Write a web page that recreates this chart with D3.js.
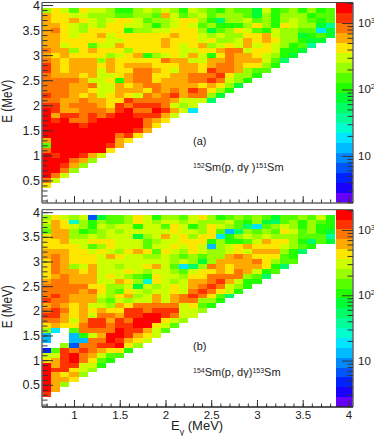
<!DOCTYPE html>
<html>
<head>
<meta charset="utf-8">
<script src="https://cdnjs.cloudflare.com/ajax/libs/d3/7.8.5/d3.min.js"></script>
<style>
html, body { margin: 0; padding: 0; background: #fff; }
svg { display: block; }
text { font-family: "Liberation Sans", sans-serif; fill: #222; }
</style>
</head>
<body>
<script>
// Counts per bin, read off the picture by colour. Each row is one excitation
// energy bin, top row (3.85-3.95 MeV) first, each row starts at E_gamma = 0.65.
// 0 = empty bin. Rows stop where the triangle stops.
var countsA = [
 [215,430,300,150,430,300,300,215,107,107,215,300,215,300,215,107,300,215,150,107,215,150,150,76,300,107,150,215,107,215,107,150],
 [600,430,430,300,300,215,215,215,150,150,215,215,150,600,300,150,215,300,150,215,215,215,150,76,215,107,215,215,215,107,150,150],
 [600,430,430,600,430,300,215,300,430,430,300,150,215,215,300,430,430,215,107,53,215,215,300,150,215,107,215,300,215,150,107,150],
 [600,600,430,300,215,300,215,430,430,300,300,215,107,215,300,430,300,150,215,107,107,107,215,430,215,107,430,300,215,215,76,38],
 [600,850,430,300,215,430,430,430,430,107,215,215,300,300,430,430,430,215,76,150,215,430,300,150,107,300,215,215,150,150,19,76],
 [600,600,430,300,430,430,600,300,430,430,430,430,430,430,600,430,430,300,215,300,215,215,430,430,600,300,215,215,76,107,150,76],
 [600,600,430,430,430,430,430,300,300,430,430,430,430,600,430,430,430,300,430,215,215,300,600,430,600,430,215,215,107,76,76],
 [600,600,300,430,430,150,300,300,600,430,430,430,430,600,430,300,430,600,215,300,430,300,600,300,430,300,215,107,150,38],
 [850,600,600,215,430,600,430,430,430,215,430,430,430,430,430,300,300,430,430,600,850,850,300,430,430,300,107,107,76],
 [600,430,600,430,430,430,430,215,300,430,600,107,215,300,430,300,600,300,107,430,850,600,600,430,300,215,107,76],
 [850,600,430,600,600,600,215,600,430,430,430,430,430,850,600,600,300,300,600,600,850,600,600,600,300,150,53],
 [1200,600,430,600,600,600,430,600,430,600,600,600,430,430,430,600,600,430,600,850,850,600,430,430,215,107],
 [1200,600,430,600,600,600,300,600,430,430,850,850,600,430,300,600,600,430,1200,850,850,600,215,150,150],
 [850,600,600,600,430,600,300,300,430,600,850,850,430,430,600,600,850,850,850,1200,430,215,215,107],
 [850,850,850,850,600,300,300,430,107,600,850,850,430,600,600,600,850,850,1200,850,300,215,107],
 [850,850,850,600,600,850,300,300,600,430,600,850,850,600,600,600,600,430,600,430,215,76],
 [850,850,850,600,600,430,300,300,600,600,600,430,850,600,850,600,1200,850,430,215,107],
 [1200,850,850,600,430,600,300,430,600,430,300,850,600,850,1200,600,850,850,215,76],
 [850,850,600,600,850,600,600,430,430,1200,850,850,850,850,600,300,300,300,53],
 [1200,1200,600,850,850,850,600,430,1200,850,1200,1200,1200,850,300,215,300],
 [1700,1200,600,600,850,850,850,600,1200,1700,850,850,1700,1200,600,300,19],
 [1700,600,1200,1200,850,1200,850,1200,1700,1700,1200,1200,1200,600,300],
 [1700,1200,1700,850,850,1200,1700,1700,1700,1700,1700,850,600,430],
 [1700,1700,1700,1700,1200,1700,1700,1700,1700,1700,1700,850,430],
 [1700,1700,1700,1700,1700,1700,1700,1700,1700,1700,1200,600],
 [1700,1700,1700,1700,1700,1700,1700,1700,850,1200,430],
 [600,1700,1700,1700,1700,1700,1700,1700,600,430],
 [150,1700,1700,1700,1700,1700,1700,1200,600],
 [850,1700,1700,1700,1700,1700,1700,430],
 [1700,1200,1700,1700,1200,600,300],
 [1700,1700,1700,850,600,215],
 [1700,1700,1200,600,215],
 [1700,1700,850,215],
 [1700,850,300],
 [850,300],
 [430]
];

var countsB = [
 [215,430,300,215,300,6.5,76,150,150,215,430,300,107,215,215,150,300,430,215,107,150,215,150,215,150,76,150,150,215,150,300,107],
 [300,600,430,26,215,107,215,150,150,215,430,300,215,300,300,215,300,215,215,215,300,150,107,215,76,53,150,215,107,215,150,107],
 [215,600,430,300,215,107,300,215,300,300,107,300,300,150,430,300,107,215,430,300,215,150,53,19,150,215,300,215,107,215,107,107],
 [150,600,600,215,107,150,215,300,215,300,300,300,300,300,430,300,300,215,430,150,13,53,215,150,215,150,430,300,150,215,107,76],
 [430,600,600,215,215,300,215,300,300,300,76,215,300,600,300,430,215,430,430,19,107,215,300,215,300,215,215,215,150,150,150,38],
 [430,430,600,300,300,430,430,430,300,300,300,150,215,300,300,430,430,430,107,215,107,107,150,300,600,430,430,215,107,53,150,76],
 [430,430,430,430,300,150,215,430,300,300,300,150,300,300,430,300,430,300,13,215,300,430,600,430,430,430,300,215,150,107],
 [600,600,600,430,430,300,430,300,215,430,600,430,150,430,300,215,430,300,215,215,300,430,300,600,600,600,215,107,53],
 [600,850,600,430,430,430,300,600,430,300,300,215,215,300,215,150,215,150,215,215,600,850,600,430,430,430,150,107],
 [430,850,600,430,430,430,300,300,300,300,300,300,300,300,215,300,215,76,215,600,600,600,600,850,430,215,150,150],
 [430,850,600,215,300,600,300,300,215,300,300,430,600,300,150,19,53,215,850,600,430,600,600,600,430,107,53],
 [430,850,600,600,430,600,300,300,300,430,300,215,300,300,215,150,300,430,430,600,430,850,600,300,107,150],
 [430,600,850,600,600,600,300,430,300,215,150,107,430,300,300,215,430,430,850,850,850,850,215,150,53],
 [600,850,850,600,600,600,300,300,600,430,215,26,430,300,215,300,600,600,850,1200,600,300,107,107],
 [850,850,850,850,850,430,430,215,215,300,76,300,215,300,430,300,600,850,1200,850,300,215,107],
 [850,850,850,850,600,850,430,215,150,430,300,215,300,300,430,300,850,1200,850,430,300,107],
 [850,1200,850,600,600,600,300,215,430,600,215,300,600,300,600,850,1200,850,430,150,53],
 [1200,850,850,600,600,600,215,150,300,215,300,300,600,300,600,850,850,215,215,107],
 [600,850,600,430,600,300,300,215,600,430,850,850,850,850,850,300,430,150,107],
 [850,1200,850,430,600,430,600,430,430,1200,1200,850,1200,1200,1200,300,300,215],
 [1200,1200,600,430,600,300,850,850,600,1200,1200,1700,1700,1200,850,300,300],
 [850,850,600,300,600,1200,1200,600,1200,850,1700,1700,1700,430,300,215],
 [430,600,430,430,850,1200,1200,850,1200,1200,1700,1700,430,300,150],
 [215,19,0,150,850,850,850,850,1700,1200,1200,600,300,150],
 [13,0,0,13,107,300,600,1700,1700,1200,600,430,300],
 [13,0,0,13,13,850,850,1700,1200,600,430,300],
 [0,0,215,6.5,850,850,1200,1200,1700,430,215],
 [4.6,150,1200,850,1200,850,600,430,430,107],
 [300,300,1200,1700,850,600,300,150,150],
 [430,600,1200,1700,850,430,150,107],
 [1700,600,1200,1200,300,300,107],
 [1700,1200,1200,430,300,215],
 [1700,600,430,600,215],
 [1700,600,600,430],
 [1700,600,215],
 [1700,600],
 [1200]
];

var xTicks = [1, 1.5, 2, 2.5, 3, 3.5, 4];
var yTicks = [0.5, 1, 1.5, 2, 2.5, 3, 3.5, 4];
var paletteTicks = [10, 100, 1000];

// ROOT rainbow palette cut in 20 contours, bottom to top
var paletteColors = ["#6600ff", "#1a00ff", "#0022ff", "#0055ff", "#0088ff", "#00bbff", "#00e6ff", "#00ffcc",
    "#00ff99", "#00ff66", "#00ff33", "#22ff00", "#55ff00", "#99ff00", "#ccff00", "#ffe600",
    "#ffaa00", "#ff7700", "#ff3300", "#ff0000"];

var width = 374, height = 436;
var margin = {left: 42, right: 353};
var binWidth = 0.1;

var svg = d3.select("body").append("svg")
    .attr("width", width)
    .attr("height", height);

var xScale = d3.scaleLinear().domain([0.65, 4.05]).range([margin.left, margin.right]);

// contours are even in log10(counts)
var logMin = 0.29, logMax = 3.31;
var colorScale = d3.scaleQuantize().domain([logMin, logMax]).range(paletteColors);

var minorX = d3.range(0.7, 4.05, 0.1);
var minorY = d3.range(0.1, 4.05, 0.1);

function drawPanel(counts, top, bottom, label, reaction, labelY, reactionY, drawXLabels) {
    var yScale = d3.scaleLinear().domain([0.05, 4.05]).range([bottom, top]);
    var g = svg.append("g");

    // bins: flatten the rows, skip the empty ones
    var cells = [];
    counts.forEach(function(row, k) {
        row.forEach(function(v, c) {
            if (v > 0) cells.push({e0: 0.65 + c * binWidth, eLow: 3.85 - k * binWidth, v: v});
        });
    });
    g.selectAll(".bin")
        .data(cells)
        .enter()
        .append("rect")
        .attr("class", "bin")
        .attr("x", function(d) { return xScale(d.e0); })
        .attr("y", function(d) { return yScale(d.eLow + binWidth); })
        .attr("width", function(d) { return xScale(d.e0 + binWidth) - xScale(d.e0); })
        .attr("height", function(d) { return yScale(d.eLow) - yScale(d.eLow + binWidth); })
        .attr("fill", function(d) { return colorScale(Math.log10(d.v)); })
        .attr("shape-rendering", "crispEdges");

    // frame along the top
    g.append("line")
        .attr("x1", margin.left).attr("x2", margin.right)
        .attr("y1", top).attr("y2", top)
        .attr("stroke", "#444").attr("stroke-width", 1);

    // palette, covers the last part of the frame
    var palX = 336, palW = 17;
    var palScale = d3.scaleLog().domain([Math.pow(10, logMin), Math.pow(10, logMax)]).range([bottom, top]);
    var step = (logMax - logMin) / paletteColors.length;
    g.selectAll(".pal")
        .data(paletteColors)
        .enter()
        .append("rect")
        .attr("class", "pal")
        .attr("x", palX)
        .attr("y", function(d, i) { return palScale(Math.pow(10, logMin + (i + 1) * step)); })
        .attr("width", palW)
        .attr("height", function(d, i) {
            return palScale(Math.pow(10, logMin + i * step)) - palScale(Math.pow(10, logMin + (i + 1) * step));
        })
        .attr("fill", function(d) { return d; })
        .attr("shape-rendering", "crispEdges");

    // minor ticks on both axes, then the major ones with labels
    var yMinor = d3.axisLeft(yScale).tickValues(minorY).tickSize(-5.5).tickFormat("");
    var yMajor = d3.axisLeft(yScale).tickValues(yTicks).tickSize(-11).tickPadding(2)
        .tickFormat(function(d) { return d; });
    var xMinor = d3.axisBottom(xScale).tickValues(minorX).tickSize(-3.5).tickFormat("");
    var xMajor = d3.axisBottom(xScale).tickValues(xTicks).tickSize(-7).tickPadding(3.5)
        .tickFormat(function(d) { return drawXLabels ? d : ""; });

    var axes = [
        {axis: yMinor, tx: margin.left, ty: 0, size: 12.5},
        {axis: yMajor, tx: margin.left, ty: 0, size: 12.5},
        {axis: xMinor, tx: 0, ty: bottom, size: 11.5},
        {axis: xMajor, tx: 0, ty: bottom, size: 11.5}
    ];
    axes.forEach(function(a) {
        var ag = g.append("g")
            .attr("transform", "translate(" + a.tx + "," + a.ty + ")")
            .call(a.axis);
        ag.select(".domain").remove();
        ag.selectAll("line").attr("stroke", "#333").attr("stroke-width", 1);
        ag.selectAll("text").attr("font-size", a.size).attr("fill", "#222");
    });

    // axis lines: grey and a bit thicker on the left
    g.append("line")
        .attr("x1", margin.left).attr("x2", margin.left)
        .attr("y1", top).attr("y2", bottom)
        .attr("stroke", "#666").attr("stroke-width", 1.5);
    g.append("line")
        .attr("x1", margin.left).attr("x2", margin.right)
        .attr("y1", bottom).attr("y2", bottom)
        .attr("stroke", drawXLabels ? "#222" : "#666").attr("stroke-width", 1.5);
    g.append("line")
        .attr("x1", margin.right).attr("x2", margin.right)
        .attr("y1", top).attr("y2", bottom)
        .attr("stroke", "#666").attr("stroke-width", 1.5);

    // palette axis, ticks pointing inward
    var palMinor = [];
    [1, 10, 100, 1000].forEach(function(dec) {
        d3.range(2, 10).forEach(function(m) {
            var v = dec * m;
            if (v > Math.pow(10, logMin) && v < Math.pow(10, logMax)) palMinor.push(v);
        });
    });
    var palAxisMinor = d3.axisRight(palScale).tickValues(palMinor).tickSize(-5.5).tickFormat("");
    var palAxisMajor = d3.axisRight(palScale).tickValues(paletteTicks).tickSize(-11).tickFormat("");
    [palAxisMinor, palAxisMajor].forEach(function(ax) {
        var ag = g.append("g")
            .attr("transform", "translate(" + margin.right + ",0)")
            .call(ax);
        ag.select(".domain").remove();
        ag.selectAll("line").attr("stroke", "#333").attr("stroke-width", 1);
    });

    // palette labels, 10^2 and 10^3 with a raised exponent
    paletteTicks.forEach(function(v) {
        var t = g.append("text")
            .attr("x", 358)
            .attr("y", palScale(v) + 4)
            .attr("font-size", 11.5);
        t.append("tspan").text("10");
        if (v > 10) {
            t.append("tspan")
                .attr("dy", -4).attr("font-size", 8)
                .text(Math.round(Math.log10(v)));
        }
    });

    // y title, a bit squeezed along its length like the original
    g.append("text")
        .attr("transform", "translate(12," + ((top + bottom) / 2 - 1.5) + ") rotate(-90) scale(0.9,1.08)")
        .attr("text-anchor", "middle")
        .attr("font-size", 13)
        .text("E (MeV)");

    // panel label and reaction
    g.append("text").attr("x", 193).attr("y", labelY).attr("font-size", 11).text(label);
    var r = g.append("text").attr("x", 193).attr("y", reactionY).attr("font-size", 11);
    reaction.forEach(function(p) {
        r.append("tspan")
            .attr("baseline-shift", p.sup ? "45%" : null)
            .attr("font-size", p.sup ? 7 : 11)
            .text(p.t);
    });
}

drawPanel(countsA, 2.5, 203, "(a)", [
    {t: "152", sup: true}, {t: "Sm(p, d\u03b3 )"}, {t: "151", sup: true}, {t: "Sm"}
], 145, 170.7, false);

drawPanel(countsB, 209.7, 407, "(b)", [
    {t: "154", sup: true}, {t: "Sm(p, d\u03b3)"}, {t: "153", sup: true}, {t: "Sm"}
], 350, 375.7, true);

// x title
var xTitle = svg.append("text").attr("x", 171).attr("y", 430).attr("font-size", 13);
xTitle.append("tspan").text("E");
xTitle.append("tspan").attr("baseline-shift", "sub").attr("font-size", 9).text("\u03b3");
xTitle.append("tspan").text(" (MeV)");
</script>
</body>
</html>
